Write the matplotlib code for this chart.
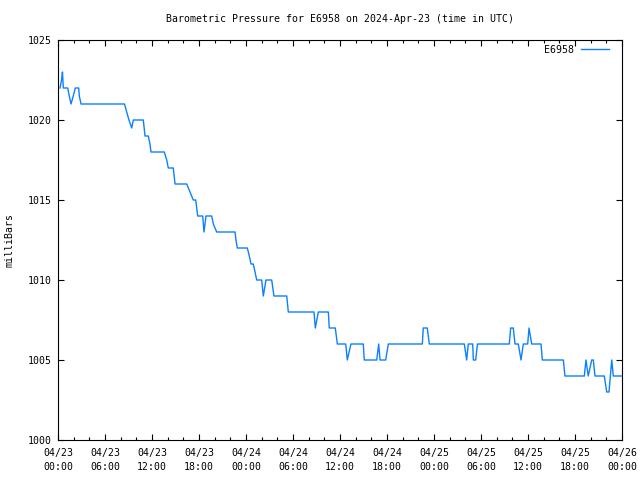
import pandas as pd
import matplotlib
matplotlib.use('Agg')
import matplotlib.pyplot as plt
import matplotlib.dates as mdates

# hours after 2024-04-23 00:00 UTC
hours = [0.26, 0.45, 0.57, 0.68, 1.24, 1.44, 1.66, 1.95, 2.21, 2.64, 2.72, 2.94,
         8.49, 8.77, 9.06, 9.41, 9.61, 10.89, 11.11, 11.53, 11.74, 11.87,
         13.57, 13.88, 14.08, 14.72, 14.94, 16.43, 16.85, 17.27, 17.58, 17.71,
         17.83, 18.47, 18.64, 18.89, 19.62, 19.83, 20.26, 22.60, 22.72, 22.89,
         24.17, 24.42, 24.64, 24.93, 25.15, 25.37, 26.00, 26.21, 26.55, 27.28,
         27.57, 29.20, 29.40, 32.68, 32.85, 33.23, 34.51, 34.63, 35.40, 35.66,
         36.73, 36.93, 37.40, 38.97, 39.10, 40.69, 40.94, 41.11, 41.83, 42.17,
         46.51, 46.63, 47.14, 47.40, 51.87, 52.17, 52.38, 52.94, 53.02, 53.32,
         53.55, 57.61, 57.79, 58.12, 58.34, 58.76, 59.11, 59.40, 59.96, 60.13,
         60.47, 61.66, 61.83, 64.51, 64.72, 67.19, 67.40, 67.69, 68.13, 68.34,
         68.55, 69.74, 70.05, 70.34, 70.69, 70.89, 71.95]
pressure = [1022, 1022.5, 1023, 1022, 1022, 1021.5, 1021, 1021.5, 1022, 1022, 1021.5, 1021,
            1021, 1020.5, 1020, 1019.5, 1020, 1020, 1019, 1019, 1018.5, 1018,
            1018, 1017.5, 1017, 1017, 1016, 1016, 1015.5, 1015, 1015, 1014.5,
            1014, 1014, 1013, 1014, 1014, 1013.5, 1013, 1013, 1012.5, 1012,
            1012, 1011.5, 1011, 1011, 1010.5, 1010, 1010, 1009, 1010, 1010,
            1009, 1009, 1008, 1008, 1007, 1008, 1008, 1007, 1007, 1006,
            1006, 1005, 1006, 1006, 1005, 1005, 1006, 1005, 1005, 1006,
            1006, 1007, 1007, 1006, 1006, 1005, 1006, 1006, 1005, 1005,
            1006, 1006, 1007, 1007, 1006, 1006, 1005, 1006, 1006, 1007,
            1006, 1006, 1005, 1005, 1004, 1004, 1005, 1004, 1005, 1005,
            1004, 1004, 1003, 1003, 1005, 1004, 1004]

station = 'E6958'
start = pd.Timestamp('2024-04-23 00:00')
end = pd.Timestamp('2024-04-26 00:00')
times = start + pd.to_timedelta(hours, unit='h')

plt.rcParams['font.family'] = 'DejaVu Sans Mono'
plt.rcParams['font.size'] = 7.1

fig = plt.figure(figsize=(6.4, 4.8), dpi=100)
ax = fig.add_axes([58 / 640, 40 / 480, 564 / 640, 400 / 480])

ax.plot(times, pressure, color='#0a80ff', linewidth=1.0, label=station)

ax.set_xlim(start, end)
ax.set_ylim(1000, 1025)
ax.set_yticks(range(1000, 1026, 5))

ax.xaxis.set_major_locator(mdates.HourLocator(byhour=[0, 6, 12, 18]))
ax.xaxis.set_minor_locator(mdates.HourLocator(interval=2))
ax.xaxis.set_major_formatter(mdates.DateFormatter('%m/%d\n%H:%M'))

ax.tick_params(axis='both', which='major', direction='in', length=4.3, width=0.8,
               top=True, right=True, pad=4.3)
ax.tick_params(axis='x', which='minor', direction='in', length=2.2, width=0.8,
               top=True)
ax.tick_params(axis='x', which='major', pad=6)
for lbl in ax.get_xticklabels():
    lbl.set_linespacing(1.45)
for sp in ax.spines.values():
    sp.set_linewidth(0.8)

fig.text(340 / 640, 1 - 19 / 480,
         f'Barometric Pressure for {station} on 2024-Apr-23 (time in UTC)',
         ha='center', va='center')
fig.text(10 / 640, 0.5, 'milliBars', rotation=90, ha='center', va='center')

# key sits a little further in from the right edge, as in gnuplot
ax.legend(loc='upper right', frameon=False, markerfirst=False, handlelength=2.9,
          borderaxespad=0.3, handletextpad=0.7,
          bbox_to_anchor=(1 - 6 / 564, 1 + 2 / 400))

fig.savefig('out.png', dpi=100)
